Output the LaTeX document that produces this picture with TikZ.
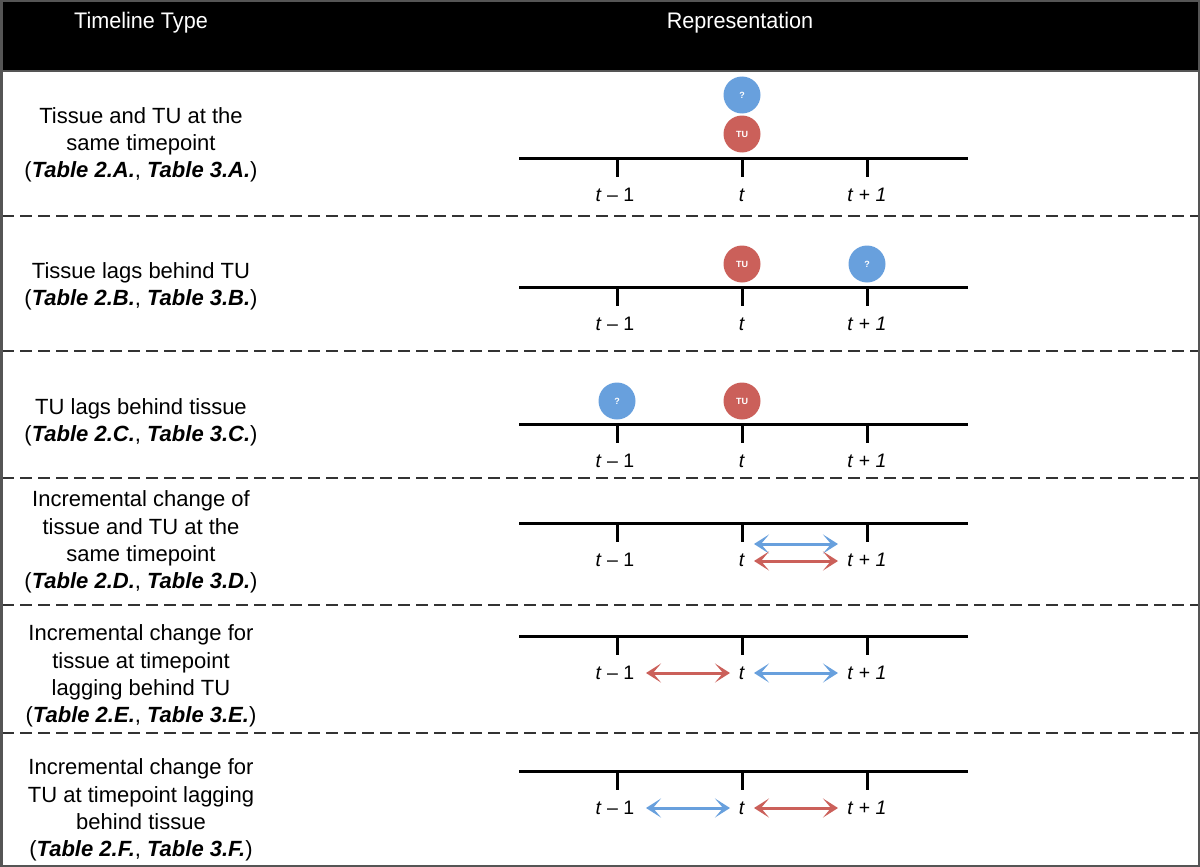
\documentclass[tikz,border=0pt]{standalone}
\usepackage{fontspec}
\setmainfont{Liberation Sans}
\usetikzlibrary{arrows.meta}
\definecolor{tblue}{RGB}{104,160,221}
\definecolor{tred}{RGB}{203,96,90}
\definecolor{frame}{RGB}{85,85,85}
\begin{document}
\begin{tikzpicture}[x=1pt,y=-1pt,
  typetext/.style={align=center,font=\fontsize{22}{27.3}\selectfont},
  headtext/.style={text=white,font=\fontsize{22.5}{26}\selectfont,xscale=0.96},
  sepline/.style={dash pattern=on 12pt off 6pt,line width=1.6pt,color=black!80},
  axisline/.style={line width=3pt},
  tickline/.style={line width=3pt},
  ticklabel/.style={font=\fontsize{19.5}{22}\selectfont},
  ball/.style={circle,minimum size=37pt,inner sep=0pt,text=white,font=\bfseries\fontsize{9}{10}\selectfont},
  qball/.style={ball,fill=tblue},
  tuball/.style={ball,fill=tred},
  darrow/.style={line width=3pt,{Stealth[length=15pt,width=19pt,inset=8pt]}-{Stealth[length=15pt,width=19pt,inset=8pt]}},
  barrow/.style={darrow,tblue},
  rarrow/.style={darrow,tred},
]
\useasboundingbox (0,0) rectangle (1200,867);
% header
\fill[black] (0,0) rectangle (1200,71);
\node[headtext] (h1) at (141,23) {Timeline Type};
\node[headtext] (h2) at (740,23) {Representation};
\draw[frame,line width=2pt] (0,71) -- (1200,71);
% separators
\foreach \yy [count=\i] in {216,351,478,605,733}{
  \draw[sepline] (2,\yy) -- (1198,\yy);
}
% timeline macro: id, y of axis
\newcommand\mytimeline[2]{
  \coordinate (L#1) at (519,#2);
  \coordinate (R#1) at (968,#2);
  \draw[axisline] (L#1) -- (R#1);
  \foreach \xx/\nm in {617/a,742/b,867/c}{
    \coordinate (T#1\nm) at (\xx,#2);
    \draw[tickline] (T#1\nm) -- ++(0,19);
  }
  \node[ticklabel] (La#1) at (615,#2+37) {\textit{t} – 1};
  \node[ticklabel] (Lb#1) at (742,#2+37) {\textit{t}};
  \node[ticklabel] (Lc#1) at (867,#2+37) {\textit{t} + \textit{1}};
}
\mytimeline{1}{158}
\mytimeline{2}{287}
\mytimeline{3}{424}
\mytimeline{4}{523}
\mytimeline{5}{636}
\mytimeline{6}{771}
% row 1
\node[qball] (q1) at (742,95) {?};
\node[tuball] (u1) at (742,134) {TU};
% row 2
\node[tuball] (u2) at (742,264) {TU};
\node[qball] (q2) at (867,264) {?};
% row 3
\node[qball] (q3) at (617,401) {?};
\node[tuball] (u3) at (742,401) {TU};
% row 4
\coordinate (a4s) at (754,544); \coordinate (a4e) at (838,544);
\coordinate (b4s) at (754,561); \coordinate (b4e) at (838,561);
\draw[barrow] (a4s) -- (a4e);
\draw[rarrow] (b4s) -- (b4e);
% row 5
\coordinate (a5s) at (646,673); \coordinate (a5e) at (730,673);
\coordinate (b5s) at (754,673); \coordinate (b5e) at (838,673);
\draw[rarrow] (a5s) -- (a5e);
\draw[barrow] (b5s) -- (b5e);
% row 6
\coordinate (a6s) at (646,808); \coordinate (a6e) at (730,808);
\coordinate (b6s) at (754,808); \coordinate (b6e) at (838,808);
\draw[barrow] (a6s) -- (a6e);
\draw[rarrow] (b6s) -- (b6e);
% left column texts
\node[typetext] (t1) at (141,145) {Tissue and TU at the\\same timepoint\\(\textbf{\textit{Table 2.A.}}, \textbf{\textit{Table 3.A.}})};
\node[typetext] (t2) at (141,286) {Tissue lags behind TU\\(\textbf{\textit{Table 2.B.}}, \textbf{\textit{Table 3.B.}})};
\node[typetext] (t3) at (141,422) {TU lags behind tissue\\(\textbf{\textit{Table 2.C.}}, \textbf{\textit{Table 3.C.}})};
\node[typetext] (t4) at (141,542) {Incremental change of\\tissue and TU at the\\same timepoint\\(\textbf{\textit{Table 2.D.}}, \textbf{\textit{Table 3.D.}})};
\node[typetext] (t5) at (141,676) {Incremental change for\\tissue at timepoint\\lagging behind TU\\(\textbf{\textit{Table 2.E.}}, \textbf{\textit{Table 3.E.}})};
\node[typetext] (t6) at (141,810) {Incremental change for\\TU at timepoint lagging\\behind tissue\\(\textbf{\textit{Table 2.F.}}, \textbf{\textit{Table 3.F.}})};
% outer frame
\draw[frame,line width=2.5pt] (1.25,1.25) rectangle (1198.75,865.75);
\end{tikzpicture}
\end{document}
